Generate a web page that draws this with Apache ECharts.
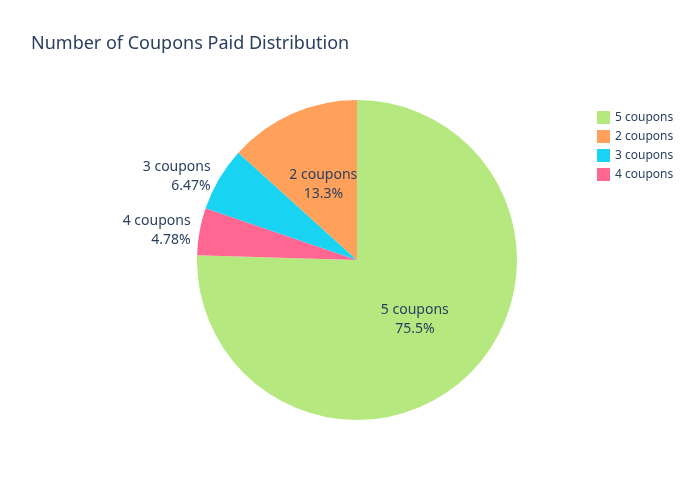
<!DOCTYPE html>
<html><head><meta charset="utf-8">
<script src="https://cdn.jsdelivr.net/npm/echarts@6/dist/echarts.min.js"></script>
<style>html,body{margin:0;padding:0;background:#fff}#c{width:700px;height:500px}</style>
</head><body><div id="c"></div>
<script>
const categories = ['5 coupons', '4 coupons', '3 coupons', '2 coupons'];
const values = [75.5, 4.78, 6.47, 13.3];
const colors = ['#B6E880', '#FF6692', '#19D3F3', '#FFA15A'];
const legendOrder = ['5 coupons', '2 coupons', '3 coupons', '4 coupons'];
const outside = ['4 coupons', '3 coupons'];

const chart = echarts.init(document.getElementById('c'));
const total = values.reduce((a, b) => a + b, 0);
chart.setOption({
  animation: false,
  textStyle: { fontFamily: 'Noto Sans' },
  title: { text: 'Number of Coupons Paid Distribution', left: 26, top: 30,
    textStyle: { fontFamily: 'Noto Sans', fontSize: 18, fontWeight: 'normal', color: '#2a3f5f' } },
  legend: { orient: 'vertical', left: 592, top: 106, data: legendOrder, icon: 'rect',
    itemWidth: 13, itemHeight: 13, itemGap: 6,
    textStyle: { fontSize: 12, color: '#2a3f5f' } },
  series: [{
    type: 'pie', center: [357, 260], radius: [0, 160], startAngle: 90, clockwise: true,
    avoidLabelOverlap: false,
    itemStyle: { borderColor: '#fff', borderWidth: 0 },
    data: categories.map((c, i) => ({
      name: c, value: values[i], itemStyle: { color: colors[i] },
      label: outside.includes(c)
        ? { position: 'outside', distance: 5 }
        : { position: 'inner' },
      labelLine: { show: false, length: 4, length2: 0 }
    })),
    label: {
      fontSize: 14, color: '#2a3f5f', lineHeight: 19, align: 'center',
      formatter: p => p.name + '\n' + (p.value / total * 100).toPrecision(3) + '%'
    }
  }]
});
</script></body></html>
